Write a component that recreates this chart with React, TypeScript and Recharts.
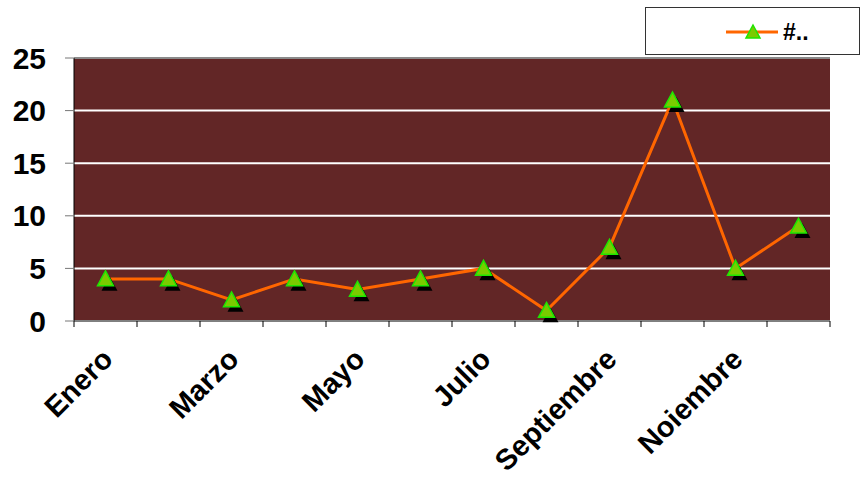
import React from 'react'
import { LineChart, Line, XAxis, YAxis, CartesianGrid, ReferenceLine } from 'recharts'

const months = ['Enero', 'Febrero', 'Marzo', 'Abril', 'Mayo', 'Junio', 'Julio', 'Agosto', 'Septiembre', 'Octubre', 'Noiembre', 'Diciembre']
const counts = [4, 4, 2, 4, 3, 4, 5, 1, 7, 21, 5, 9]
const yTicks = [0, 5, 10, 15, 20, 25]
const seriesName = '#..'

const data = months.map((m, i) => ({ month: m, value: counts[i] }))

const FONT = '"Liberation Sans", Arial, sans-serif'
const PLOT_W = 756
const HALF = PLOT_W / months.length / 2

const tri = (cx: number, cy: number, s: number) =>
  `M${cx},${cy - s} L${cx + s},${cy + s * 0.85} L${cx - s},${cy + s * 0.85} Z`

function Marker(props: any) {
  const { cx, cy, index } = props
  if (cx == null || cy == null) return null
  return (
    <g key={`m-${index}`}>
      <path d={tri(cx + 4, cy + 5, 8)} fill="#000" />
      <path d={tri(cx, cy, 8)} fill="#7ACB00" stroke="#1EE600" strokeWidth={1.5} />
    </g>
  )
}

function MonthTick(props: any) {
  const { x, y, payload, index } = props
  return (
    <g>
      <line x1={x - HALF} y1={y - 8} x2={x - HALF} y2={y - 2} stroke="#000" />
      {index === months.length - 1 && (
        <line x1={x + HALF} y1={y - 8} x2={x + HALF} y2={y - 2} stroke="#000" />
      )}
      {index % 2 === 0 && (
        <text
          transform={`translate(${x + 9},${y + 32}) rotate(-45)`}
          textAnchor="end"
          fontFamily={FONT}
          fontWeight="bold"
          fontSize={29}
          fill="#000"
        >
          {payload.value}
        </text>
      )}
    </g>
  )
}

function LegendBox() {
  return (
    <div
      style={{
        position: 'absolute',
        left: 645,
        top: 7,
        width: 215,
        height: 48,
        border: '1px solid #333',
        background: '#fff',
        boxSizing: 'border-box',
        zIndex: 2,
      }}
    >
      <svg width={213} height={46} style={{ position: 'absolute', left: 0, top: 0 }}>
        <line x1={80} y1={24} x2={132} y2={24} stroke="#FF6600" strokeWidth={3} />
        <path d={tri(107, 24, 7)} fill="#7ACB00" stroke="#1EE600" strokeWidth={1.5} />
        <text x={137} y={32} fontFamily={FONT} fontWeight="bold" fontSize={23} fill="#000">
          {seriesName}
        </text>
      </svg>
    </div>
  )
}

export default function App() {
  return (
    <div style={{ position: 'absolute', left: 0, top: 0, width: 860, height: 480, background: '#fff' }}>
      <LineChart width={860} height={480} data={data} margin={{ top: 58, right: 30, bottom: 0, left: 0 }}>
        <CartesianGrid vertical={false} fill="#622626" stroke="#fff" strokeWidth={2} strokeOpacity={1} />
        <ReferenceLine y={25} stroke="#8a8a8a" strokeWidth={2} />
        <XAxis
          dataKey="month"
          interval={0}
          height={159}
          padding={{ left: HALF, right: HALF }}
          axisLine={{ stroke: '#000', strokeWidth: 1 }}
          tickLine={false}
          tick={<MonthTick />}
        />
        <YAxis
          width={74}
          domain={[0, 25]}
          ticks={yTicks}
          interval={0}
          axisLine={{ stroke: '#000', strokeWidth: 1 }}
          tickLine={{ stroke: '#777' }}
          tickSize={9}
          tickMargin={19}
          tick={{ fontFamily: FONT, fontWeight: 'bold', fontSize: 30, fill: '#000' }}
        />
        <Line
          type="linear"
          dataKey="value"
          name={seriesName}
          stroke="#FF6600"
          strokeWidth={3}
          dot={<Marker />}
          activeDot={false}
          isAnimationActive={false}
        />
      </LineChart>
      <LegendBox />
    </div>
  )
}
